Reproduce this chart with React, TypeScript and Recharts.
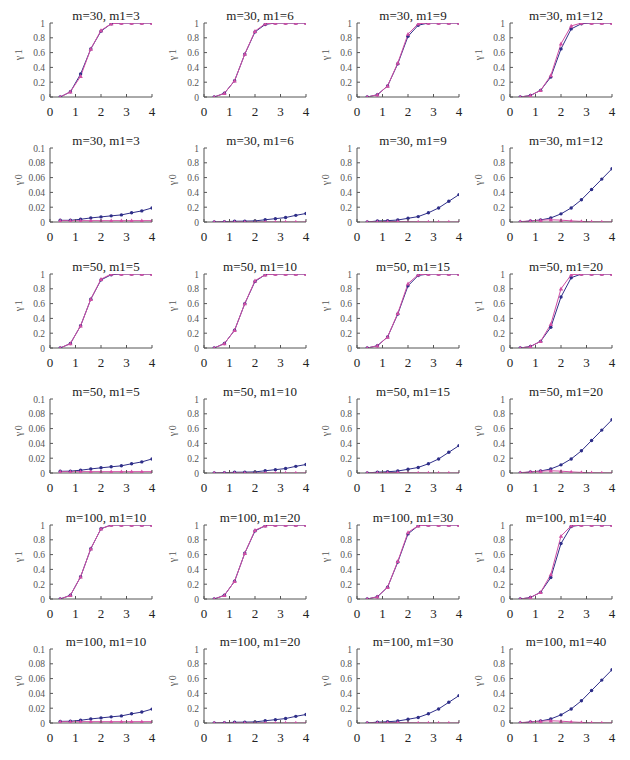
import React from 'react';
import { LineChart, Line, XAxis, YAxis } from 'recharts';

const xValues = [0.4, 0.8, 1.2, 1.6, 2.0, 2.4, 2.8, 3.2, 3.6, 4.0];
const xTicks = [0, 1, 2, 3, 4];
const yTicksFull = [0, 0.2, 0.4, 0.6, 0.8, 1];
const yTicksSmall = [0, 0.02, 0.04, 0.06, 0.08, 0.1];
const mValues = [30, 50, 100];
const m1Values = [
  [3, 6, 9, 12],
  [5, 10, 15, 20],
  [10, 20, 30, 40],
];

// gamma1 (upper rows), per column
const g1BlueM30 = [
  [0.0, 0.07, 0.31, 0.65, 0.89, 0.99, 1, 1, 1, 1],
  [0.0, 0.05, 0.22, 0.58, 0.88, 0.98, 1, 1, 1, 1],
  [0.0, 0.03, 0.15, 0.45, 0.82, 0.97, 1, 1, 1, 1],
  [0.0, 0.02, 0.09, 0.27, 0.65, 0.92, 0.99, 1, 1, 1],
];
const g1PinkM30 = [
  [0.0, 0.07, 0.28, 0.65, 0.9, 0.99, 1, 1, 1, 1],
  [0.0, 0.05, 0.22, 0.58, 0.89, 0.99, 1, 1, 1, 1],
  [0.0, 0.03, 0.15, 0.46, 0.85, 0.99, 1, 1, 1, 1],
  [0.0, 0.02, 0.09, 0.29, 0.72, 0.96, 1, 1, 1, 1],
];
const g1BlueM50 = [
  [0.0, 0.06, 0.3, 0.66, 0.92, 0.99, 1, 1, 1, 1],
  [0.0, 0.06, 0.24, 0.6, 0.9, 0.99, 1, 1, 1, 1],
  [0.0, 0.03, 0.15, 0.46, 0.84, 0.98, 1, 1, 1, 1],
  [0.0, 0.02, 0.09, 0.28, 0.69, 0.95, 1, 1, 1, 1],
];
const g1PinkM50 = [
  [0.0, 0.06, 0.3, 0.66, 0.93, 1, 1, 1, 1, 1],
  [0.0, 0.06, 0.24, 0.6, 0.91, 0.99, 1, 1, 1, 1],
  [0.0, 0.03, 0.15, 0.47, 0.87, 0.99, 1, 1, 1, 1],
  [0.0, 0.02, 0.09, 0.32, 0.8, 0.99, 1, 1, 1, 1],
];
const g1BlueM100 = [
  [0.0, 0.05, 0.3, 0.68, 0.95, 1, 1, 1, 1, 1],
  [0.0, 0.05, 0.24, 0.62, 0.92, 0.99, 1, 1, 1, 1],
  [0.0, 0.03, 0.16, 0.5, 0.88, 0.99, 1, 1, 1, 1],
  [0.0, 0.02, 0.09, 0.29, 0.75, 0.98, 1, 1, 1, 1],
];
const g1PinkM100 = [
  [0.0, 0.05, 0.3, 0.68, 0.95, 1, 1, 1, 1, 1],
  [0.0, 0.05, 0.24, 0.62, 0.93, 0.99, 1, 1, 1, 1],
  [0.0, 0.03, 0.16, 0.51, 0.9, 0.99, 1, 1, 1, 1],
  [0.0, 0.02, 0.09, 0.33, 0.85, 0.99, 1, 1, 1, 1],
];

// gamma0 (lower rows), per column
const g0BlueM30 = [
  [0.0023, 0.0023, 0.0037, 0.0055, 0.0069, 0.0083, 0.0096, 0.0124, 0.015, 0.019],
  [0.0, 0.005, 0.01, 0.012, 0.015, 0.03, 0.045, 0.06, 0.09, 0.115],
  [0.0, 0.014, 0.018, 0.027, 0.05, 0.073, 0.124, 0.19, 0.28, 0.37],
  [0.0, 0.014, 0.027, 0.055, 0.11, 0.19, 0.3, 0.44, 0.58, 0.72],
];
const g0PinkM30 = [
  [0.0018, 0.0018, 0.0018, 0.0018, 0.0018, 0.0018, 0.0018, 0.0018, 0.0018, 0.0018],
  [0.0, 0.0, 0.002, 0.002, 0.001, 0.001, 0.0, 0.0, 0.0, 0.0],
  [0.0, 0.005, 0.008, 0.006, 0.004, 0.002, 0.001, 0.0, 0.0, 0.0],
  [0.005, 0.015, 0.025, 0.03, 0.025, 0.015, 0.008, 0.003, 0.002, 0.001],
];
const g0BlueM50 = [
  [0.0023, 0.0025, 0.0038, 0.0055, 0.007, 0.0084, 0.0097, 0.0125, 0.015, 0.019],
  [0.0, 0.004, 0.01, 0.012, 0.015, 0.03, 0.045, 0.06, 0.09, 0.115],
  [0.0, 0.012, 0.017, 0.027, 0.05, 0.075, 0.125, 0.19, 0.28, 0.37],
  [0.0, 0.014, 0.027, 0.055, 0.11, 0.19, 0.3, 0.44, 0.58, 0.72],
];
const g0PinkM50 = [
  [0.0018, 0.0018, 0.0018, 0.0018, 0.0018, 0.0018, 0.0018, 0.0018, 0.0018, 0.0018],
  [0.0, 0.0, 0.002, 0.002, 0.001, 0.001, 0.0, 0.0, 0.0, 0.0],
  [0.0, 0.005, 0.008, 0.006, 0.004, 0.002, 0.001, 0.0, 0.0, 0.0],
  [0.005, 0.015, 0.025, 0.03, 0.025, 0.015, 0.008, 0.003, 0.002, 0.001],
];
const g0BlueM100 = [
  [0.0022, 0.0024, 0.0037, 0.0055, 0.0069, 0.0083, 0.0096, 0.0124, 0.0148, 0.0188],
  [0.0, 0.004, 0.01, 0.012, 0.015, 0.03, 0.045, 0.06, 0.09, 0.115],
  [0.0, 0.012, 0.017, 0.027, 0.05, 0.075, 0.125, 0.19, 0.28, 0.37],
  [0.0, 0.014, 0.027, 0.055, 0.11, 0.19, 0.3, 0.44, 0.58, 0.72],
];
const g0PinkM100 = [
  [0.0018, 0.0018, 0.0018, 0.0018, 0.0018, 0.0018, 0.0018, 0.0018, 0.0018, 0.0018],
  [0.0, 0.0, 0.002, 0.002, 0.001, 0.001, 0.0, 0.0, 0.0, 0.0],
  [0.0, 0.005, 0.008, 0.006, 0.004, 0.002, 0.001, 0.0, 0.0, 0.0],
  [0.005, 0.015, 0.025, 0.03, 0.025, 0.015, 0.008, 0.003, 0.002, 0.001],
];

const g1Blue = [g1BlueM30, g1BlueM50, g1BlueM100];
const g1Pink = [g1PinkM30, g1PinkM50, g1PinkM100];
const g0Blue = [g0BlueM30, g0BlueM50, g0BlueM100];
const g0Pink = [g0PinkM30, g0PinkM50, g0PinkM100];

const colLeft = [50, 204, 357, 510];
const rowTop = [23, 148, 274, 399, 525, 649];
const plotW = 102;
const plotH = 74;
const yAxisW = 60;
const topM = 20;
const rightM = 10;
const xAxisH = 25;

const BLUE = '#2e2e88';
const PINK = '#d04fa4';
const FRAME = '#555';
const FONT = '"Liberation Serif", "DejaVu Serif", serif';

const XTick = (props: any) => {
  const { x, y, payload } = props;
  return (
    <g>
      <line x1={x} x2={x} y1={y} y2={y - 3} stroke={FRAME} strokeWidth={1} />
      <text x={x} y={y + 19} textAnchor="middle" fontSize={13} fill="#222" fontFamily={FONT}>
        {payload.value}
      </text>
    </g>
  );
};

const YTick = (props: any) => {
  const { x, y, payload } = props;
  return (
    <g>
      <line x1={x} x2={x + 3} y1={y} y2={y} stroke={FRAME} strokeWidth={1} />
      <text x={x - 5} y={y + 3.5} textAnchor="end" fontSize={9.5} fill="#555" fontFamily={FONT}>
        {String(payload.value)}
      </text>
    </g>
  );
};

const BlueDot = (props: any) => {
  const { cx, cy, index } = props;
  if (cx == null || cy == null) return <g key={index} />;
  return <circle key={index} cx={cx} cy={cy} r={1.7} fill={BLUE} stroke="none" />;
};

const PinkDot = (props: any) => {
  const { cx, cy, index } = props;
  if (cx == null || cy == null) return <g key={index} />;
  const s = 2.2;
  return (
    <path
      key={index}
      d={`M${cx},${cy - s} L${cx + s},${cy + s * 0.8} L${cx - s},${cy + s * 0.8} Z`}
      fill={PINK}
      stroke="none"
    />
  );
};

const makeYLabel = (text: string) => (props: any) => {
  const vb = props.viewBox || {};
  const cx = vb.x + vb.width / 2 - 2;
  const cy = vb.y + vb.height / 2 - 6;
  return (
    <text
      x={cx}
      y={cy}
      transform={`rotate(-90 ${cx} ${cy})`}
      textAnchor="middle"
      dominantBaseline="central"
      fontSize={10}
      letterSpacing={1.5}
      fill="#555"
      fontFamily={FONT}
    >
      {text}
    </text>
  );
};

type PanelProps = {
  blue: number[];
  pink: number[];
  title: string;
  yLabel: string;
  small: boolean;
  left: number;
  top: number;
};

const Panel = ({ blue, pink, title, yLabel, small, left, top }: PanelProps) => {
  const data = xValues.map((x, i) => ({ x, blue: blue[i], pink: pink[i] }));
  const domain = small ? [0, 0.1] : [0, 1];
  const ticks = small ? yTicksSmall : yTicksFull;
  return (
    <>
      <div
        style={{
          position: 'absolute',
          left: left - yAxisW,
          top: top - topM,
        }}
      >
        <LineChart
          width={yAxisW + plotW + rightM}
          height={topM + plotH + xAxisH}
          data={data}
          margin={{ top: topM, right: rightM, bottom: 0, left: 0 }}
        >
          <XAxis
            dataKey="x"
            type="number"
            domain={[0, 4]}
            ticks={xTicks}
            interval={0}
            height={xAxisH}
            tickSize={0}
            tickMargin={0}
            tick={XTick}
            axisLine={{ stroke: FRAME }}
            allowDataOverflow
          />
          <XAxis
            xAxisId="top"
            orientation="top"
            dataKey="x"
            type="number"
            domain={[0, 4]}
            height={0}
            tick={false}
            tickLine={false}
            axisLine={{ stroke: FRAME }}
          />
          <YAxis
            type="number"
            domain={domain}
            ticks={ticks}
            interval={0}
            width={yAxisW}
            tickSize={0}
            tickMargin={0}
            tick={YTick}
            axisLine={{ stroke: FRAME }}
            allowDataOverflow
            label={{ value: yLabel, content: makeYLabel(yLabel) }}
          />
          <YAxis
            yAxisId="right"
            orientation="right"
            type="number"
            domain={domain}
            width={0}
            tick={false}
            tickLine={false}
            axisLine={{ stroke: FRAME }}
          />
          <Line
            type="linear"
            dataKey="blue"
            stroke={BLUE}
            strokeWidth={1}
            dot={BlueDot}
            isAnimationActive={false}
          />
          <Line
            type="linear"
            dataKey="pink"
            stroke={PINK}
            strokeWidth={1}
            dot={PinkDot}
            isAnimationActive={false}
          />
        </LineChart>
      </div>
      <div
        style={{
          position: 'absolute',
          left: left + 5,
          width: plotW,
          top: top - 15,
          textAlign: 'center',
          fontFamily: FONT,
          fontSize: 13,
          lineHeight: '15px',
          color: '#222',
          whiteSpace: 'nowrap',
        }}
      >
        {title}
      </div>
    </>
  );
};

export default function App() {
  const panels: React.ReactNode[] = [];
  for (let g = 0; g < 3; g++) {
    for (let c = 0; c < 4; c++) {
      const title = `m=${mValues[g]}, m1=${m1Values[g][c]}`;
      panels.push(
        <Panel
          key={`g1-${g}-${c}`}
          blue={g1Blue[g][c]}
          pink={g1Pink[g][c]}
          title={title}
          yLabel="γ1"
          small={false}
          left={colLeft[c]}
          top={rowTop[2 * g]}
        />
      );
      panels.push(
        <Panel
          key={`g0-${g}-${c}`}
          blue={g0Blue[g][c]}
          pink={g0Pink[g][c]}
          title={title}
          yLabel="γ0"
          small={c === 0}
          left={colLeft[c]}
          top={rowTop[2 * g + 1]}
        />
      );
    }
  }
  return (
    <div
      style={{
        position: 'absolute',
        left: 0,
        top: 0,
        width: 630,
        height: 760,
        background: '#fff',
        overflow: 'hidden',
      }}
    >
      {panels}
    </div>
  );
}
